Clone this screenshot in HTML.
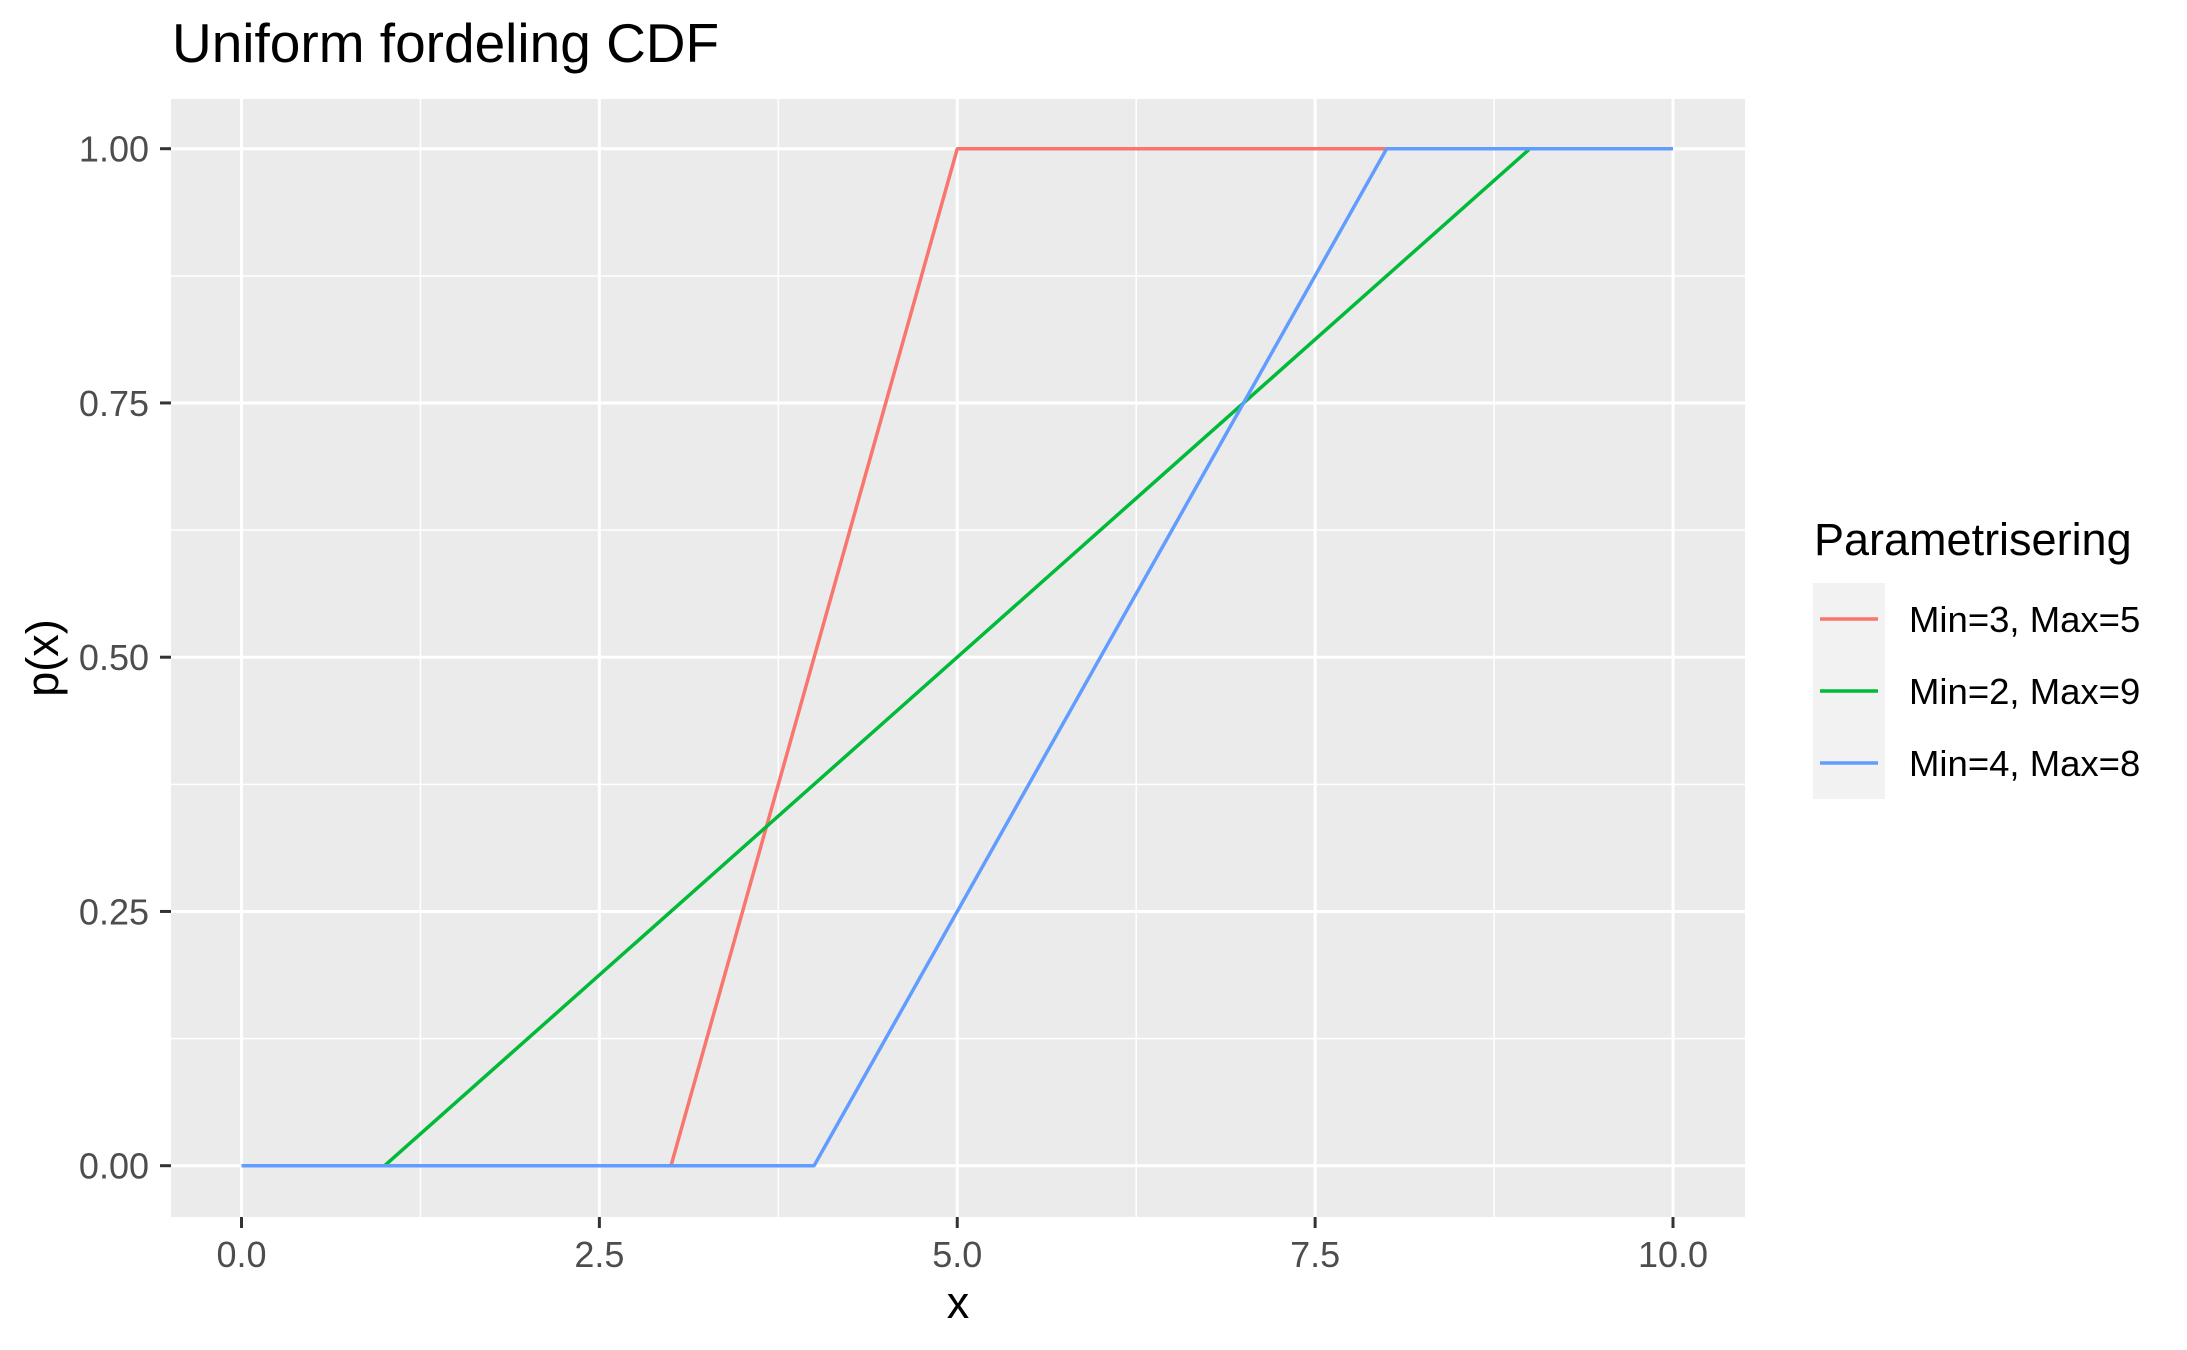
<!DOCTYPE html>
<html><head><meta charset="utf-8"><style>
html,body{margin:0;padding:0;background:#fff}
svg{display:block;font-family:"Liberation Sans",Arial,sans-serif}
</style></head><body>
<svg id="chart" width="2187" height="1350" viewBox="0 0 2187 1350" xmlns="http://www.w3.org/2000/svg">
<rect x="0" y="0" width="2187" height="1350" fill="#fff"/>
<text x="172" y="62" font-size="55" fill="#000">Uniform fordeling CDF</text>
<rect x="171" y="99" width="1574" height="1118" fill="#ebebeb"/>
<g id="grid"></g>
<g id="series"></g>
<g id="axes"></g>
<text x="958" y="1318" font-size="45" text-anchor="middle" fill="#000">x</text>
<text transform="translate(58,658) rotate(-90)" font-size="45" text-anchor="middle" fill="#000">p(x)</text>
<g>
<text x="1814" y="555" font-size="45" fill="#000">Parametrisering</text>
<rect x="1813" y="583" width="72" height="216" fill="#f2f2f2"/>
<g id="legend-entries"></g>
</g>
</svg>
<script>
const categories = ["Min=3, Max=5", "Min=2, Max=9", "Min=4, Max=8"];
const seriesX = [[0, 3, 5, 10], [0, 1, 9, 10], [0, 4, 8, 10]];
const seriesY = [[0, 0, 1, 1], [0, 0, 1, 1], [0, 0, 1, 1]];
const colors = ["#F8766D", "#00BA38", "#619CFF"];
const xTicks = [0, 2.5, 5, 7.5, 10];
const xTickLabels = ["0.0", "2.5", "5.0", "7.5", "10.0"];
const yTicks = [0, 0.25, 0.5, 0.75, 1];
const yTickLabels = ["0.00", "0.25", "0.50", "0.75", "1.00"];

const NS = "http://www.w3.org/2000/svg";
const X0 = 241.5, X1 = 1673, Y0 = 1165.7, Y1 = 148.7;
const PL = 171, PR = 1745, PT = 99, PB = 1217;
function sx(v){ return X0 + (v - 0) / 10 * (X1 - X0); }
function sy(v){ return Y0 + v * (Y1 - Y0); }
function mk(tag, attrs, parent){ const e = document.createElementNS(NS, tag); for (const k in attrs) e.setAttribute(k, attrs[k]); parent.appendChild(e); return e; }

const grid = document.getElementById("grid");
for (let i = 0; i < xTicks.length - 1; i++) {
  const m = (xTicks[i] + xTicks[i+1]) / 2;
  const l = mk("line", {x1: sx(m), x2: sx(m), y1: PT, y2: PB, stroke: "#fff", "stroke-width": 1.5}, grid);
  
  
}
for (let i = 0; i < yTicks.length - 1; i++) {
  const m = (yTicks[i] + yTicks[i+1]) / 2;
  const l = mk("line", {x1: PL, x2: PR, y1: sy(m), y2: sy(m), stroke: "#fff", "stroke-width": 1.5}, grid);
  
  
}
xTicks.forEach(t => {
  const l = mk("line", {x1: sx(t), x2: sx(t), y1: PT, y2: PB, stroke: "#fff", "stroke-width": 3}, grid);
  
  
});
yTicks.forEach(t => {
  const l = mk("line", {x1: PL, x2: PR, y1: sy(t), y2: sy(t), stroke: "#fff", "stroke-width": 3}, grid);
  
  
});

const series = document.getElementById("series");
seriesX.forEach((xs, i) => {
  const pts = xs.map((x, j) => sx(x).toFixed(1) + "," + sy(seriesY[i][j]).toFixed(1)).join(" ");
  const p = mk("polyline", {points: pts, fill: "none", stroke: colors[i], "stroke-width": 3.5, "stroke-linejoin": "round"}, series);
  
  
});

const axes = document.getElementById("axes");
xTicks.forEach((t, i) => {
  const l = mk("line", {x1: sx(t), x2: sx(t), y1: PB, y2: PB + 11, stroke: "#333", "stroke-width": 3}, axes);
  
  
  const tx = mk("text", {x: sx(t), y: 1267, "font-size": 36, "text-anchor": "middle", fill: "#4d4d4d"}, axes);
  tx.textContent = xTickLabels[i];
  
  
});
yTicks.forEach((t, i) => {
  const l = mk("line", {x1: PL - 11, x2: PL, y1: sy(t), y2: sy(t), stroke: "#333", "stroke-width": 3}, axes);
  
  
  const tx = mk("text", {x: 149, y: sy(t) + 13, "font-size": 36, "text-anchor": "end", fill: "#4d4d4d"}, axes);
  tx.textContent = yTickLabels[i];
  
  
});

const leg = document.getElementById("legend-entries");
categories.forEach((c, i) => {
  const y = 619 + i * 72;
  const l = mk("line", {x1: 1820, x2: 1878, y1: y, y2: y, stroke: colors[i], "stroke-width": 3.5}, leg);
  
  
  const tx = mk("text", {x: 1909, y: y + 13, "font-size": 36.5, fill: "#000"}, leg);
  tx.textContent = c;
  
  
});
</script>
</body></html>
